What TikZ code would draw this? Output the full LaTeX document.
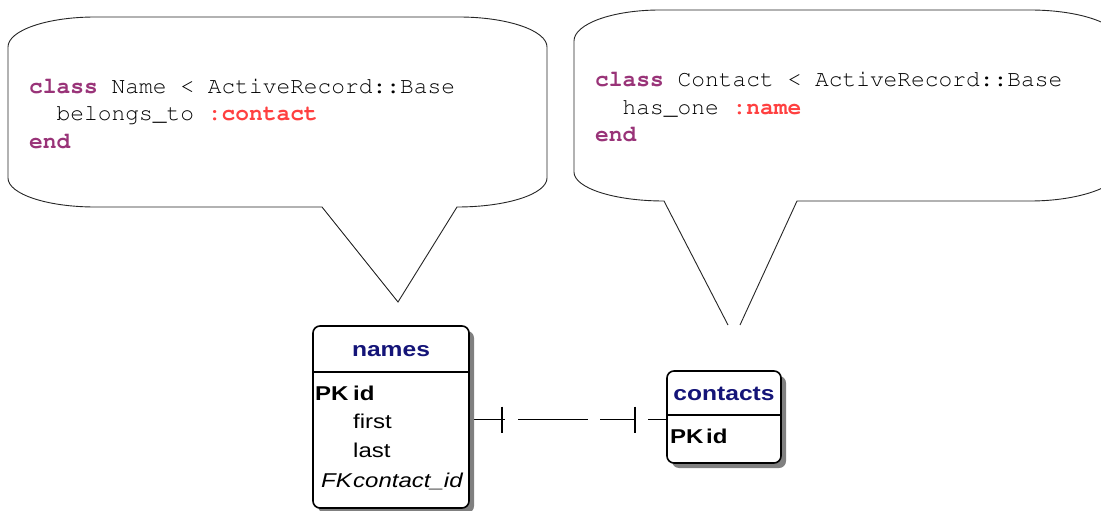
\documentclass[tikz,border=0pt]{standalone}
\usepackage{fontspec}
\usetikzlibrary{shadows}
\newfontfamily\tabfont[FakeStretch=1.2]{Liberation Sans}
\newcommand{\codefont}{\fontencoding{T1}\fontfamily{pcr}\selectfont}
\definecolor{kwpurple}{RGB}{153,51,120}
\definecolor{symred}{RGB}{255,64,64}
\definecolor{hdrblue}{RGB}{20,20,120}
\definecolor{shade}{RGB}{128,128,128}
\tikzset{
  bubble/.style={draw=black!85, line width=0.9pt, line join=miter},
  codeline/.style={anchor=base west, inner sep=0pt, font=\codefont\fontsize{22.9}{26}\selectfont},
  tablebox/.style={draw=black, line width=1.6pt, fill=white, rounded corners=7pt,
    drop shadow={shadow xshift=5pt, shadow yshift=-5pt, fill=shade, opacity=1}},
  hdrline/.style={draw=black, line width=1.3pt},
  hdrtext/.style={anchor=base, inner sep=0pt, text=hdrblue, font=\tabfont\bfseries\fontsize{20.5}{24}\selectfont},
  cell/.style={anchor=base west, inner sep=0pt, font=\tabfont\fontsize{20}{24}\selectfont},
  keycell/.style={cell, font=\tabfont\bfseries\fontsize{20}{24}\selectfont},
  fkcell/.style={cell, font=\tabfont\itshape\fontsize{20}{24}\selectfont},
  relation/.style={draw=black, line width=1.2pt},
}
\newcommand{\kw}[1]{\textcolor{kwpurple}{\bfseries #1}}
\newcommand{\sym}[1]{\textcolor{symred}{\bfseries #1}}
\begin{document}
\begin{tikzpicture}[x=1pt, y=-1pt]
\clip (0,0) rectangle (1101,511);
\fill[white] (0,0) rectangle (1101,511);

% speech bubble for the Name model
\draw[bubble] (8,47) .. controls (8,30.4) and (47,17) .. (95,17)
  -- (459,17) .. controls (507,17) and (547,30.4) .. (547,47)
  -- (547,178) .. controls (547,194) and (507,207) .. (457,207)
  -- (398,302) -- (322,207) -- (95,207)
  .. controls (47,207) and (8,194) .. (8,178) -- cycle;
\node[codeline] (nline1) at (29,93.3) {\kw{class} Name < ActiveRecord::Base};
\node[codeline] (nline2) at (29,120.7) {\ \ belongs\_to \sym{:contact}};
\node[codeline] (nline3) at (29,148.2) {\kw{end}};

% speech bubble for the Contact model
\draw[bubble] (728,325) -- (664,201)
  .. controls (614,201) and (574,188) .. (574,172)
  -- (574,41) .. controls (574,23.9) and (612.5,10) .. (660,10)
  -- (1030,10) .. controls (1080,10) and (1120,24) .. (1120,41)
  -- (1120,170) .. controls (1120,186) and (1080,201) .. (1030,201)
  -- (797,201) -- (740,325);
\node[codeline] (cline1) at (595,86.7) {\kw{class} Contact < ActiveRecord::Base};
\node[codeline] (cline2) at (595,114.3) {\ \ has\_one \sym{:name}};
\node[codeline] (cline3) at (595,141.8) {\kw{end}};

% one-to-one relation between the two tables
\coordinate (relA) at (474,419.5);
\coordinate (relB) at (667,419.5);
\draw[relation, dash pattern=on 31pt off 13pt on 70pt off 12pt on 35pt off 13pt on 40pt] (relA) -- (relB);
\draw[relation] ([xshift=28pt,yshift=13pt]relA) -- ([xshift=28pt,yshift=-13pt]relA);
\draw[relation] ([xshift=-32pt,yshift=13pt]relB) -- ([xshift=-32pt,yshift=-13pt]relB);

% table: names
\node[tablebox, minimum width=156pt, minimum height=182pt] (names) at (391,417) {};
\draw[hdrline] (names.west |- 0,372) -- (names.east |- 0,372);
\node[hdrtext] (namesHdr) at (391,356) {names};
\node[keycell] (namesPK) at (315,400) {PK};
\node[keycell] (namesId) at (353,400) {id};
\node[cell] (namesFirst) at (353,428.5) {first};
\node[cell] (namesLast) at (353,457) {last};
\node[fkcell] (namesFK) at (321,487) {FK};
\node[fkcell] (namesFKcol) at (353,487) {contact\_id};

% table: contacts
\node[tablebox, minimum width=114pt, minimum height=92pt] (contacts) at (724,417) {};
\draw[hdrline] (contacts.west |- 0,415) -- (contacts.east |- 0,415);
\node[hdrtext] (contactsHdr) at (724,400) {contacts};
\node[keycell] (contactsPK) at (670,443) {PK};
\node[keycell] (contactsId) at (706,443) {id};
\end{tikzpicture}
\end{document}
